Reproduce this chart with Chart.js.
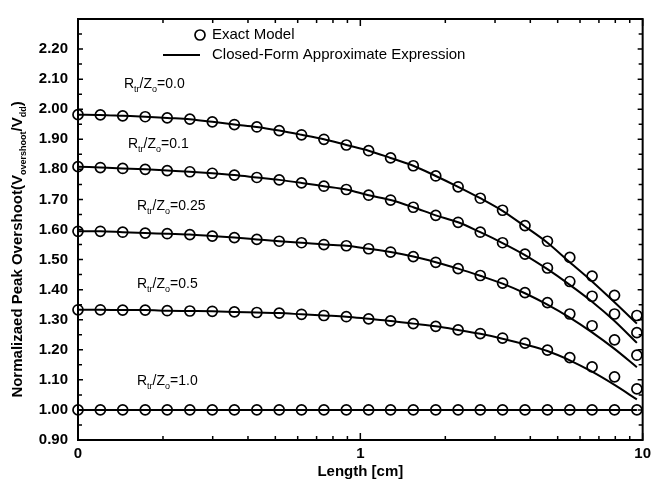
<!DOCTYPE html>
<html lang="en">
<head>
<meta charset="UTF-8">
<title>Normalized Peak Overshoot vs Length</title>
<script src="https://cdn.jsdelivr.net/npm/chart.js"></script>
<style>
    html, body { margin: 0; padding: 0; background: #fff; }
    #wrap { width: 656px; height: 487px; }
</style>
</head>
<body>
<div id="wrap"><canvas id="overshootChart" width="656" height="487"></canvas></div>
<script>
// line length [cm], log axis
const lengths = [0.1, 0.12, 0.144, 0.173, 0.207, 0.249, 0.299, 0.358, 0.43, 0.516, 0.619, 0.743, 0.892,
                 1.07, 1.28, 1.54, 1.85, 2.22, 2.66, 3.19, 3.83, 4.6, 5.52, 6.62, 7.95, 9.54];

// exact model (circles)
const exact00 = [1.982, 1.981, 1.978, 1.975, 1.971, 1.967, 1.958, 1.949, 1.941, 1.929, 1.915, 1.900, 1.881,
                 1.862, 1.838, 1.812, 1.778, 1.742, 1.704, 1.664, 1.613, 1.561, 1.507, 1.445, 1.381, 1.314];
const exact01 = [1.809, 1.806, 1.803, 1.800, 1.796, 1.792, 1.787, 1.781, 1.773, 1.765, 1.755, 1.744, 1.733,
                 1.714, 1.698, 1.674, 1.647, 1.624, 1.591, 1.556, 1.518, 1.472, 1.427, 1.378, 1.319, 1.257];
const exact025 = [1.594, 1.594, 1.591, 1.588, 1.586, 1.583, 1.578, 1.573, 1.567, 1.561, 1.556, 1.550, 1.546,
                  1.536, 1.525, 1.510, 1.491, 1.470, 1.447, 1.422, 1.390, 1.357, 1.319, 1.280, 1.233, 1.182];
const exact05 = [1.333, 1.333, 1.332, 1.332, 1.330, 1.329, 1.328, 1.326, 1.324, 1.322, 1.318, 1.314, 1.310,
                 1.303, 1.296, 1.287, 1.278, 1.266, 1.254, 1.239, 1.222, 1.199, 1.174, 1.143, 1.110, 1.070];
const exact10 = [1.000, 1.000, 1.000, 1.000, 1.000, 1.000, 1.000, 1.000, 1.000, 1.000, 1.000, 1.000, 1.000,
                 1.000, 1.000, 1.000, 1.000, 1.000, 1.000, 1.000, 1.000, 1.000, 1.000, 1.000, 1.000, 1.000];

// closed-form approximate expression (lines)
const approx00 = [1.982, 1.981, 1.978, 1.975, 1.971, 1.967, 1.958, 1.949, 1.941, 1.929, 1.915, 1.900, 1.881,
                  1.862, 1.838, 1.812, 1.778, 1.742, 1.704, 1.662, 1.610, 1.556, 1.491, 1.427, 1.358, 1.287];
const approx01 = [1.809, 1.806, 1.803, 1.800, 1.796, 1.792, 1.787, 1.781, 1.773, 1.765, 1.755, 1.744, 1.733,
                  1.714, 1.698, 1.674, 1.647, 1.624, 1.591, 1.555, 1.515, 1.468, 1.416, 1.360, 1.296, 1.223];
const approx025 = [1.594, 1.594, 1.591, 1.588, 1.586, 1.583, 1.578, 1.573, 1.567, 1.561, 1.556, 1.550, 1.546,
                   1.536, 1.525, 1.510, 1.491, 1.470, 1.446, 1.420, 1.388, 1.350, 1.307, 1.258, 1.203, 1.142];
const approx05 = [1.333, 1.333, 1.332, 1.332, 1.330, 1.329, 1.328, 1.326, 1.324, 1.322, 1.318, 1.314, 1.310,
                  1.303, 1.296, 1.287, 1.278, 1.266, 1.253, 1.237, 1.218, 1.196, 1.165, 1.127, 1.083, 1.035];
const approx10 = exact10;

const curveLabels = ['0.0', '0.1', '0.25', '0.5', '1.0'];

// axis ticks
const xTickValues = [0.1, 0.2, 0.3, 0.4, 0.5, 0.6, 0.7, 0.8, 0.9, 1, 2, 3, 4, 5, 6, 7, 8, 9, 10];
const xMajorTicks = [0.1, 1, 10];
const xTickText = { 0.1: '0', 1: '1', 10: '10' };

const FONT = "'Liberation Sans', Arial, Helvetica, sans-serif";

function pts(ys) {
    return lengths.map((x, i) => ({ x: x, y: ys[i] }));
}

const lineSets = [approx00, approx01, approx025, approx05, approx10].map(ys => ({
    data: pts(ys),
    showLine: true,
    borderColor: '#000',
    borderWidth: 2,
    pointRadius: 0,
    cubicInterpolationMode: 'monotone',
    clip: false
}));

const circleSets = [exact00, exact01, exact025, exact05, exact10].map(ys => ({
    data: pts(ys),
    showLine: false,
    pointRadius: 5,
    pointBorderWidth: 1.7,
    pointBorderColor: '#000',
    pointBackgroundColor: 'rgba(0,0,0,0)',
    clip: false
}));

// draws text with subscripts: parts = [[text, isSub], ...]
function richText(ctx, parts, x, y, size, weight, align) {
    const subSize = Math.round(size * 0.62);
    let total = 0;
    parts.forEach(p => {
        ctx.font = weight + ' ' + (p[1] ? subSize : size) + 'px ' + FONT;
        total += ctx.measureText(p[0]).width;
    });
    let cx = align === 'center' ? x - total / 2 : x;
    ctx.textAlign = 'left';
    ctx.textBaseline = 'alphabetic';
    parts.forEach(p => {
        ctx.font = weight + ' ' + (p[1] ? subSize : size) + 'px ' + FONT;
        ctx.fillText(p[0], cx, y + (p[1] ? size * 0.28 : 0));
        cx += ctx.measureText(p[0]).width;
    });
}

const decorations = {
    id: 'decorations',
    afterDraw(chart) {
        const { ctx, chartArea: a, scales: { x, y } } = chart;
        ctx.save();
        ctx.strokeStyle = '#000';
        ctx.fillStyle = '#000';

        // frame
        ctx.lineWidth = 2;
        ctx.strokeRect(a.left, a.top, a.right - a.left, a.bottom - a.top);

        // inward ticks
        ctx.lineWidth = 1.5;
        ctx.beginPath();
        xTickValues.forEach(v => {
            const px = x.getPixelForValue(v);
            const len = xMajorTicks.includes(v) ? 7 : 4;
            ctx.moveTo(px, a.bottom); ctx.lineTo(px, a.bottom - len);
            ctx.moveTo(px, a.top); ctx.lineTo(px, a.top + len);
        });
        for (let k = 0; k <= 28; k++) {
            const py = y.getPixelForValue(0.9 + k * 0.05);
            const len = k % 2 === 0 ? 5 : 4;
            ctx.moveTo(a.left, py); ctx.lineTo(a.left + len, py);
            ctx.moveTo(a.right, py); ctx.lineTo(a.right - len, py);
        }
        ctx.stroke();

        // legend
        ctx.lineWidth = 1.7;
        ctx.beginPath();
        ctx.arc(200, 35, 5, 0, Math.PI * 2);
        ctx.stroke();
        ctx.lineWidth = 2;
        ctx.beginPath();
        ctx.moveTo(163, 55); ctx.lineTo(200, 55);
        ctx.stroke();
        ctx.font = '15px ' + FONT;
        ctx.textAlign = 'left';
        ctx.textBaseline = 'middle';
        ctx.fillText('Exact Model', 212, 35);
        ctx.fillText('Closed-Form Approximate Expression', 212, 55);

        // curve annotations
        const spots = [[124, 88], [128, 148], [137, 210], [137, 288], [137, 385]];
        curveLabels.forEach((lab, i) => {
            richText(ctx, [['R', false], ['tr', true], ['/Z', false], ['o', true], ['=' + lab, false]],
                     spots[i][0], spots[i][1], 14, 'normal', 'left');
        });

        // y axis title
        ctx.translate(17, (a.top + a.bottom) / 2 + 20);
        ctx.rotate(-Math.PI / 2);
        richText(ctx, [['Normalizaed Peak Overshoot(V', false], ['overshoot', true], ['/V', false],
                       ['dd', true], [')', false]], 0, 5, 15, 'bold', 'center');
        ctx.restore();
    }
};

new Chart(document.getElementById('overshootChart'), {
    type: 'scatter',
    data: { datasets: lineSets.concat(circleSets) },
    options: {
        responsive: false,
        animation: false,
        devicePixelRatio: 1,
        events: [],
        layout: { padding: { top: 6, right: 9, left: 0, bottom: 0 } },
        plugins: { legend: { display: false }, tooltip: { enabled: false } },
        scales: {
            x: {
                type: 'logarithmic',
                min: 0.1,
                max: 10,
                grid: { display: false, drawTicks: false },
                border: { display: false },
                afterBuildTicks: s => { s.ticks = xTickValues.map(v => ({ value: v })); },
                afterFit: s => { s.height = 47; },
                ticks: {
                    autoSkip: false,
                    maxRotation: 0,
                    padding: 5,
                    color: '#000',
                    font: { family: FONT, size: 15, weight: 'bold' },
                    callback: v => (xTickText[v] !== undefined ? xTickText[v] : '')
                },
                title: {
                    display: true,
                    text: 'Length [cm]',
                    color: '#000',
                    padding: { top: 0, bottom: 6 },
                    font: { family: FONT, size: 15, weight: 'bold' }
                }
            },
            y: {
                min: 0.9,
                max: 2.3,
                grid: { display: false, drawTicks: false },
                border: { display: false },
                afterFit: s => { s.width = 78; },
                ticks: {
                    stepSize: 0.1,
                    padding: 10,
                    color: '#000',
                    font: { family: FONT, size: 15, weight: 'bold' },
                    callback: v => (v > 2.25 ? null : v.toFixed(2))
                }
            }
        }
    },
    plugins: [decorations]
});
</script>
</body>
</html>
